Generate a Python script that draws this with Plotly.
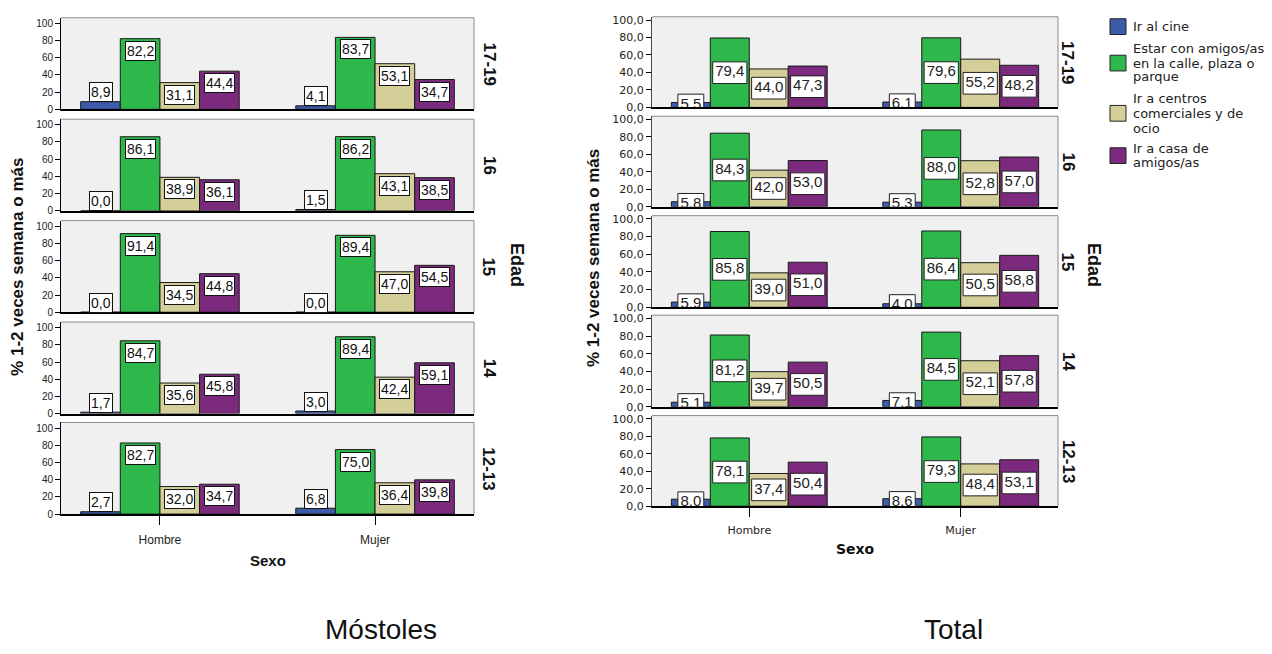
import plotly.graph_objects as go

# ---------------- data ----------------
sexo = ["Hombre", "Mujer"]
edades = ["17-19", "16", "15", "14", "12-13"]
actividades = ["Ir al cine",
               "Estar con amigos/as en la calle, plaza o parque",
               "Ir a centros comerciales y de ocio",
               "Ir a casa de amigos/as"]
legend_lines = [["Ir al cine"],
                ["Estar con amigos/as", "en la calle, plaza o", "parque"],
                ["Ir a centros", "comerciales y de", "ocio"],
                ["Ir a casa de", "amigos/as"]]
colores = ["#3c5ba8", "#2eb84b", "#d4cf99", "#7c2a7e"]

# Móstoles (ages top->bottom: 17-19, 16, 15, 14, 12-13)
mos_cine_h = [8.9, 0.0, 0.0, 1.7, 2.7]
mos_cine_m = [4.1, 1.5, 0.0, 3.0, 6.8]
mos_calle_h = [82.2, 86.1, 91.4, 84.7, 82.7]
mos_calle_m = [83.7, 86.2, 89.4, 89.4, 75.0]
mos_centros_h = [31.1, 38.9, 34.5, 35.6, 32.0]
mos_centros_m = [53.1, 43.1, 47.0, 42.4, 36.4]
mos_casa_h = [44.4, 36.1, 44.8, 45.8, 34.7]
mos_casa_m = [34.7, 38.5, 54.5, 59.1, 39.8]

# Total
tot_cine_h = [5.5, 5.8, 5.9, 5.1, 8.0]
tot_cine_m = [6.1, 5.3, 4.0, 7.1, 8.6]
tot_calle_h = [79.4, 84.3, 85.8, 81.2, 78.1]
tot_calle_m = [79.6, 88.0, 86.4, 84.5, 79.3]
tot_centros_h = [44.0, 42.0, 39.0, 39.7, 37.4]
tot_centros_m = [55.2, 52.8, 50.5, 52.1, 48.4]
tot_casa_h = [47.3, 53.0, 51.0, 50.5, 50.4]
tot_casa_m = [48.2, 57.0, 58.8, 57.8, 53.1]

y_ticks = [0, 20, 40, 60, 80, 100]

# ---------------- layout constants ----------------
W, H = 1272, 654
BARGAP = 0.263
XR = [-0.46, 1.46]
ARIAL = "Liberation Sans, Arial, sans-serif"
DEJAVU = "DejaVu Sans, Verdana, sans-serif"

panels = [
    dict(title="Móstoles",
         series=[(mos_cine_h, mos_cine_m), (mos_calle_h, mos_calle_m),
                 (mos_centros_h, mos_centros_m), (mos_casa_h, mos_casa_m)],
         x0=61, x1=474,
         rows=[(15, 108), (118, 211), (221, 314), (324, 417), (426, 519)],
         ymax=106.5, tickfmt="d", font=ARIAL, tickfont=10, xtickfont=12,
         labels="annot", ylinecolor="black", standoff=5,
         ytitle_x=18, ytitle_y=268, facet_x=489, edad_x=517, edad_y=266,
         sexo_x=268, sexo_y=566, title_x=381),
    dict(title="Total",
         series=[(tot_cine_h, tot_cine_m), (tot_calle_h, tot_calle_m),
                 (tot_centros_h, tot_centros_m), (tot_casa_h, tot_casa_m)],
         x0=652, x1=1058,
         rows=[(14, 106), (115, 207), (216, 309), (317, 410), (419, 511)],
         ymax=103.7, tickfmt=".1f", font=DEJAVU, tickfont=11, xtickfont=11,
         labels="clip", ylinecolor="#444444", standoff=4,
         ytitle_x=593, ytitle_y=259, facet_x=1068, edad_x=1094, edad_y=266,
         sexo_x=855, sexo_y=554, title_x=953),
]

fig = go.Figure()
layout = dict(width=W, height=H, margin=dict(l=0, r=0, t=0, b=0),
              paper_bgcolor="white", plot_bgcolor="#f0f0f0",
              barmode="group", bargap=BARGAP, bargroupgap=0,
              showlegend=False, separators=",.")
annotations = []
shapes = []

slot = (1 - BARGAP) / 4
offsets = [-(1 - BARGAP) / 2 + slot * (i + 0.5) for i in range(4)]


def fmt(v):
    return f"{v:.1f}".replace(".", ",")


k = 0
for p in panels:
    xpx = (p["x1"] - p["x0"]) / (XR[1] - XR[0])
    for r, age in enumerate(edades):
        k += 1
        sfx = "" if k == 1 else str(k)
        top, bot = p["rows"][r]
        ypx = (bot - top) / p["ymax"]
        is_bottom = r == len(edades) - 1
        layout["xaxis" + sfx] = dict(
            domain=[p["x0"] / W, p["x1"] / W], anchor="y" + sfx, range=XR,
            tickvals=[0, 1], ticktext=sexo, showticklabels=is_bottom,
            ticks="outside" if is_bottom else "", ticklen=9, tickcolor="black",
            tickwidth=1.2, ticklabelstandoff=p["standoff"],
            showline=True, linecolor="black", linewidth=1.5, showgrid=False,
            zeroline=False, fixedrange=True,
            tickfont=dict(family=p["font"], size=p["xtickfont"], color="#222"))
        layout["yaxis" + sfx] = dict(
            domain=[1 - bot / H, 1 - top / H], anchor="x" + sfx,
            range=[0, p["ymax"]], tickvals=y_ticks, tickformat=p["tickfmt"],
            ticks="outside", ticklen=5, tickcolor="black", showline=True,
            linecolor=p["ylinecolor"], linewidth=1, showgrid=False,
            zeroline=False, fixedrange=True,
            tickfont=dict(family=p["font"], size=p["tickfont"], color="#222"))
        # top and right frame lines
        shapes.append(dict(type="line", xref=f"x{sfx} domain", yref=f"y{sfx} domain",
                           x0=0, x1=1, y0=1, y1=1, line=dict(color="#8a8a8a", width=1)))
        shapes.append(dict(type="line", xref=f"x{sfx} domain", yref=f"y{sfx} domain",
                           x0=1, x1=1, y0=0, y1=1, line=dict(color="#8a8a8a", width=1)))
        # data bars
        for i in range(4):
            vals = [p["series"][i][0][r], p["series"][i][1][r]]
            fig.add_trace(go.Bar(
                x=[0, 1], y=vals, xaxis="x" + sfx, yaxis="y" + sfx,
                name=actividades[i], showlegend=False, hoverinfo="skip",
                marker=dict(color=colores[i], line=dict(color="#1a1a1a", width=1))))
        # value labels
        if p["labels"] == "annot":
            for i in range(4):
                for c in range(2):
                    v = p["series"][i][c][r]
                    yc = v - 14 if v >= 25 else v + 11
                    annotations.append(dict(
                        x=c + offsets[i], y=yc, xref="x" + sfx, yref="y" + sfx,
                        text=fmt(v), showarrow=False, xanchor="center", yanchor="middle",
                        bgcolor="white", bordercolor="#111", borderwidth=1, borderpad=1,
                        font=dict(family=ARIAL, size=14, color="#111")))
        else:
            bx, bbase, bh, boff, bw, tx, ty, tt = [], [], [], [], [], [], [], []
            box_h = 22 / ypx
            for i in range(4):
                for c in range(2):
                    v = p["series"][i][c][r]
                    txt = fmt(v)
                    nd = sum(ch.isdigit() for ch in txt)
                    wpx = 8.34 * nd + 4.2 + 5.0
                    w = wpx / xpx
                    yc = v / 2
                    bx.append(c)
                    bbase.append(yc - box_h / 2)
                    bh.append(box_h)
                    boff.append(offsets[i] - w / 2)
                    bw.append(w)
                    tx.append(c + offsets[i])
                    ty.append(yc)
                    tt.append(txt)
            fig.add_trace(go.Bar(
                x=bx, y=bh, base=bbase, offset=boff, width=bw,
                xaxis="x" + sfx, yaxis="y" + sfx, showlegend=False, hoverinfo="skip",
                marker=dict(color="white", line=dict(color="#222", width=1))))
            fig.add_trace(go.Scatter(
                x=tx, y=ty, text=tt, mode="text", textposition="middle center",
                cliponaxis=True, xaxis="x" + sfx, yaxis="y" + sfx,
                showlegend=False, hoverinfo="skip",
                textfont=dict(family=ARIAL, size=15, color="#222")))
        # facet label
        annotations.append(dict(
            x=p["facet_x"] / W, y=1 - (top + bot) / 2 / H, xref="paper", yref="paper",
            text=f"<b>{age}</b>", textangle=90, showarrow=False,
            xanchor="center", yanchor="middle",
            font=dict(family=ARIAL, size=17, color="#111")))
    # panel titles
    annotations.append(dict(
        x=p["ytitle_x"] / W, y=1 - p["ytitle_y"] / H, xref="paper", yref="paper",
        text="<b>% 1-2 veces semana o más</b>", textangle=-90, showarrow=False,
        xanchor="center", yanchor="middle",
        font=dict(family=ARIAL, size=17, color="#111")))
    annotations.append(dict(
        x=p["edad_x"] / W, y=1 - p["edad_y"] / H, xref="paper", yref="paper",
        text="<b>Edad</b>", textangle=90, showarrow=False,
        xanchor="center", yanchor="middle",
        font=dict(family=ARIAL, size=18, color="#111")))
    annotations.append(dict(
        x=p["sexo_x"] / W, y=1 - p["sexo_y"] / H, xref="paper", yref="paper",
        text="<b>Sexo</b>", showarrow=False, xanchor="center", yanchor="middle",
        font=dict(family=p["font"], size=15 if p["font"] == ARIAL else 14, color="#111")))
    annotations.append(dict(
        x=p["title_x"] / W, y=0, xref="paper", yref="paper",
        text=p["title"], showarrow=False, xanchor="center", yanchor="bottom",
        font=dict(family=ARIAL, size=28, color="#111")))

# manual legend
leg_box_y = [24, 61, 112, 155]
leg_line_y = [[24], [46, 61, 75], [97, 112, 127], [148, 162]]
for i in range(4):
    cy = leg_box_y[i]
    shapes.append(dict(type="rect", xref="paper", yref="paper",
                       x0=1110 / W, x1=1126 / W, y0=1 - (cy + 8) / H, y1=1 - (cy - 8) / H,
                       fillcolor=colores[i], line=dict(color="#222", width=1)))
    for line, ly in zip(legend_lines[i], leg_line_y[i]):
        annotations.append(dict(
            x=1131 / W, y=1 - ly / H, xref="paper", yref="paper", text=line,
            showarrow=False, xanchor="left", yanchor="middle",
            font=dict(family=DEJAVU, size=13, color="#222")))

layout["annotations"] = annotations
layout["shapes"] = shapes
fig.update_layout(**layout)
fig.write_html("out.html", config={"displayModeBar": False},
               post_script="document.body.style.margin='0';")
